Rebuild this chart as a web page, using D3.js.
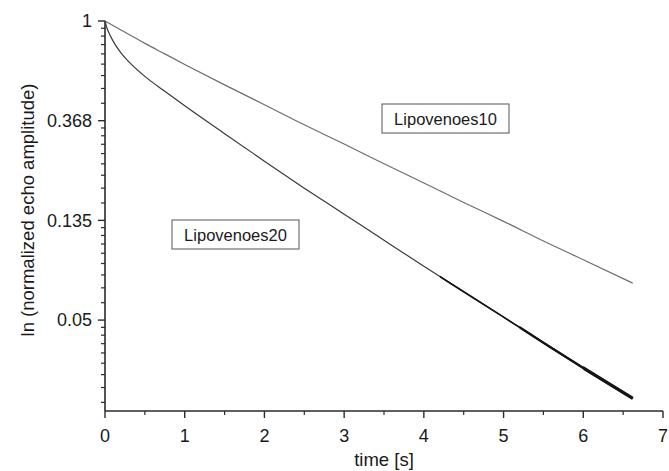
<!DOCTYPE html>
<html>
<head>
<meta charset="utf-8">
<script src="https://cdn.jsdelivr.net/npm/d3@7"></script>
<style>
  body { margin: 0; background: #fff; }
  text { font-family: Arial, "Liberation Sans", sans-serif; fill: #1a1a1a; }
</style>
</head>
<body>
<svg id="chart" width="669" height="471"></svg>
<script>
// time axis (s)
const times10 = [0, 0.1, 0.2, 0.3, 0.5, 0.75, 1, 1.5, 2, 2.5, 3, 3.5, 4, 4.5, 5, 5.5, 6, 6.62];
const amp10 = [1, 0.956, 0.914, 0.874, 0.799, 0.719, 0.647, 0.527, 0.432, 0.353, 0.291, 0.239, 0.197, 0.162, 0.134, 0.110, 0.0912, 0.0721];

const times20 = [0, 0.02, 0.05, 0.1, 0.2, 0.3, 0.5, 0.75, 1, 1.5, 2, 2.5, 3, 3.5, 4, 4.5, 5, 5.5, 6, 6.62];
const amp20 = [1, 0.942, 0.887, 0.819, 0.726, 0.664, 0.574, 0.494, 0.427, 0.323, 0.245, 0.187, 0.144, 0.111, 0.0854, 0.0662, 0.0513, 0.0397, 0.0308, 0.0227];

const xTicks = [0, 1, 2, 3, 4, 5, 6, 7];
const yTicks = [1, Math.exp(-1), Math.exp(-2), Math.exp(-3)];
const yTickLabels = ['1', '0.368', '0.135', '0.05'];

const seriesNames = ['Lipovenoes10', 'Lipovenoes20'];

const svg = d3.select('#chart');

const x = d3.scaleLinear().domain([0, 7]).range([105, 663]);
const y = d3.scaleLog().domain([0.02, 1]).range([411, 21]);

const axisColor = '#2a2a2a';

// minor ticks
let yMinor = [];
for (let n = 0; n < 4; n++) {
    const hi = Math.exp(-n), lo = Math.exp(-n - 1);
    for (let j = 1; j < 9; j++) {
        const v = lo + j * (hi - lo) / 9;
        if (v >= 0.02) yMinor.push(v);
    }
}
const xMinor = d3.range(0.5, 7, 1);

// y axis
const yAxis = svg.append('g').attr('transform', 'translate(105,0)');
yAxis.append('line')
    .attr('x1', 0).attr('x2', 0)
    .attr('y1', y(1)).attr('y2', y(0.02))
    .attr('stroke', axisColor).attr('stroke-width', 1.6);
yAxis.selectAll('.ymaj')
    .data(yTicks)
    .enter()
    .append('line')
    .attr('x1', -7).attr('x2', 0)
    .attr('y1', d => y(d)).attr('y2', d => y(d))
    .attr('stroke', axisColor).attr('stroke-width', 1.4);
yAxis.selectAll('.ymin')
    .data(yMinor)
    .enter()
    .append('line')
    .attr('x1', -4).attr('x2', 0)
    .attr('y1', d => y(d)).attr('y2', d => y(d))
    .attr('stroke', axisColor).attr('stroke-width', 1.2);
yAxis.selectAll('text')
    .data(yTicks)
    .enter()
    .append('text')
    .attr('x', -13)
    .attr('y', d => y(d))
    .attr('dy', '0.35em')
    .attr('text-anchor', 'end')
    .style('font-size', '18px')
    .text((d, i) => yTickLabels[i]);

// x axis
const xAxis = svg.append('g').attr('transform', 'translate(0,411)');
xAxis.append('line')
    .attr('x1', x(0)).attr('x2', x(7))
    .attr('y1', 0).attr('y2', 0)
    .attr('stroke', axisColor).attr('stroke-width', 1.6);
xAxis.selectAll('.xmaj')
    .data(xTicks)
    .enter()
    .append('line')
    .attr('x1', d => x(d)).attr('x2', d => x(d))
    .attr('y1', 0).attr('y2', 7)
    .attr('stroke', axisColor).attr('stroke-width', 1.4);
xAxis.selectAll('.xmin')
    .data(xMinor)
    .enter()
    .append('line')
    .attr('x1', d => x(d)).attr('x2', d => x(d))
    .attr('y1', 0).attr('y2', 4)
    .attr('stroke', axisColor).attr('stroke-width', 1.2);
xAxis.selectAll('text')
    .data(xTicks)
    .enter()
    .append('text')
    .attr('x', d => x(d))
    .attr('y', 31)
    .attr('text-anchor', 'middle')
    .style('font-size', '18px')
    .text(d => d);

// axis titles
svg.append('text')
    .attr('x', 384)
    .attr('y', 466)
    .attr('text-anchor', 'middle')
    .style('font-size', '18.5px')
    .text('time [s]');

svg.append('text')
    .attr('transform', 'translate(34,210) rotate(-90)')
    .attr('text-anchor', 'middle')
    .style('font-size', '18.5px')
    .text('ln (normalized echo amplitude)');

// curves
const line = d3.line()
    .x(d => x(d[0]))
    .y(d => y(d[1]))
    .curve(d3.curveMonotoneX);

const data10 = times10.map((t, i) => [t, amp10[i]]);
const data20 = times20.map((t, i) => [t, amp20[i]]);

svg.append('path')
    .attr('d', line(data10))
    .attr('fill', 'none')
    .attr('stroke', '#6e6e6e')
    .attr('stroke-width', 1.2);

// noisy tail of the 20% curve gets thicker
const defs = svg.append('defs');
const tailCuts = [[0, 1.2], [4.2, 1.7], [5.2, 2.4], [6.0, 3.2]];
tailCuts.forEach((c, i) => {
    defs.append('clipPath').attr('id', 'tail' + i)
        .append('rect')
        .attr('x', x(c[0])).attr('y', 0)
        .attr('width', 669 - x(c[0])).attr('height', 471);
    svg.append('path')
        .attr('d', line(data20))
        .attr('fill', 'none')
        .attr('stroke', i == 0 ? '#3a3a3a' : '#151515')
        .attr('stroke-width', c[1])
        .attr('clip-path', 'url(#tail' + i + ')');
});

// labels
const labels = [
    { name: seriesNames[0], x0: 382, y0: 104 },
    { name: seriesNames[1], x0: 172, y0: 220 }
];
const lab = svg.selectAll('.lab')
    .data(labels)
    .enter()
    .append('g')
    .attr('transform', d => 'translate(' + d.x0 + ',' + d.y0 + ')');
lab.append('rect')
    .attr('width', 127).attr('height', 29)
    .attr('fill', '#fff')
    .attr('stroke', '#555')
    .attr('stroke-width', 1);
lab.append('text')
    .attr('x', 63.5).attr('y', 20.5)
    .attr('text-anchor', 'middle')
    .style('font-size', '16.5px')
    .text(d => d.name);
</script>
</body>
</html>
